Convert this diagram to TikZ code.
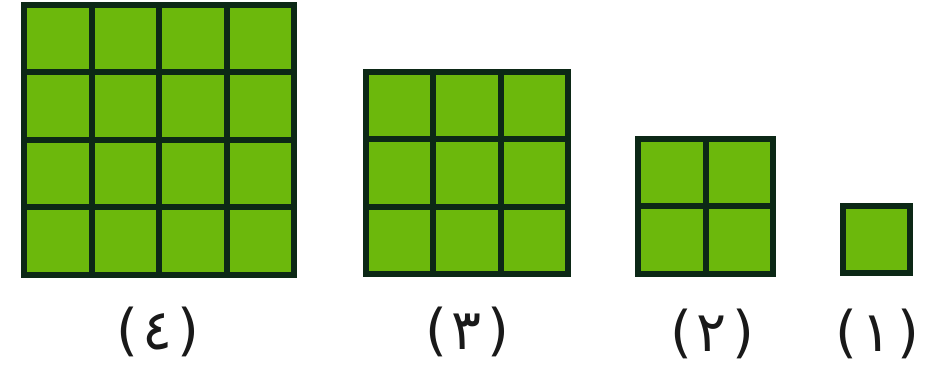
\documentclass[tikz,border=0pt]{standalone}
\usepackage{fontspec}
\newfontfamily\arabicfont[Script=Arabic]{DejaVu Sans}
\newfontfamily\parenfont{DejaVu Sans}
\definecolor{cellgreen}{RGB}{108,184,12}
\definecolor{gridink}{RGB}{12,40,22}
\definecolor{labelink}{RGB}{25,25,25}
\tikzset{
  sqfill/.style={fill=cellgreen},
  sqline/.style={draw=gridink, line width=6pt, line cap=rect},
  sqlabel/.style={text=labelink, font=\parenfont\fontsize{56}{62}\selectfont, inner sep=0pt}
}
% #1 left, #2 bottom, #3 cells per side, #4 cell size
\newcommand\gridsquare[4]{%
  \pgfmathsetmacro\side{#3*#4}%
  \fill[sqfill] (#1,#2) rectangle ++(\side,\side);
  \ifnum#3>1
    \pgfmathtruncatemacro\last{#3-1}%
    \foreach \k in {1,...,\last}{
      \draw[sqline] ({#1+\k*#4},#2) -- ++(0,\side);
      \draw[sqline] (#1,{#2+\k*#4}) -- ++(\side,0);
    }
  \fi
  \draw[sqline] (#1,#2) rectangle ++(\side,\side);
}
\newcommand\plabel[1]{(\hspace{5pt}{\arabicfont #1}\hspace{5pt})}
\begin{document}
\begin{tikzpicture}[x=1pt,y=1pt]
  \useasboundingbox[fill=white] (0,0) rectangle (928,382);
  \gridsquare{24}{107}{4}{67.5}
  \gridsquare{366}{108}{3}{67.3}
  \gridsquare{638}{108}{2}{67.5}
  \gridsquare{843}{109}{1}{66.5}
  \node[sqlabel] (l4) at (158,50) {\plabel{٤}};
  \node[sqlabel] (l3) at (467,50) {\plabel{٣}};
  \node[sqlabel] (l2) at (712,48) {\plabel{٢}};
  \node[sqlabel] (l1) at (877,48) {\plabel{١}};
\end{tikzpicture}
\end{document}
